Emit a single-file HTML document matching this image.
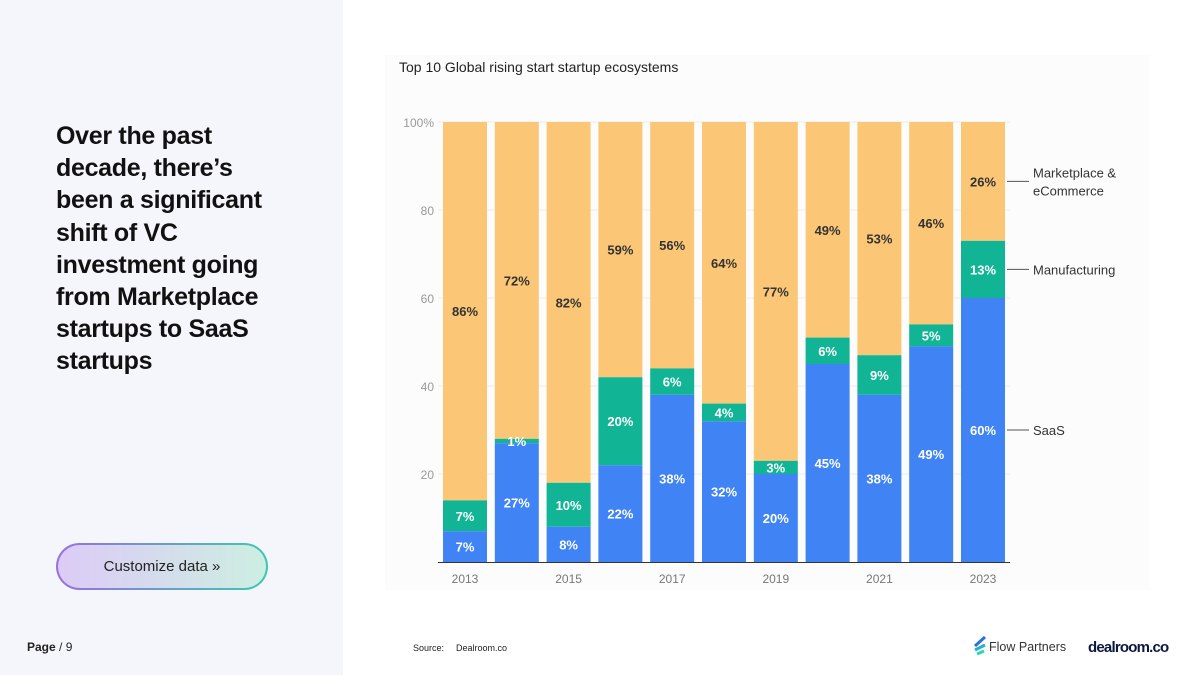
<!DOCTYPE html>
<html><head><meta charset="utf-8"><style>
body{margin:0;width:1200px;height:675px;position:relative;overflow:hidden;background:#fff;font-family:"Liberation Sans",sans-serif}
#left{position:absolute;left:0;top:0;width:343px;height:675px;background:#f5f6fb}
h1{position:absolute;left:56px;top:120px;margin:0;font-size:25px;line-height:32.2px;font-weight:bold;color:#111;white-space:nowrap;letter-spacing:-0.3px}
#btn{position:absolute;left:56px;top:543px;width:212px;height:47px;border-radius:24px;padding:2px;background:linear-gradient(90deg,#9b6fe0,#3cc9b0);box-sizing:border-box}
#btn div{width:100%;height:100%;border-radius:22px;background:linear-gradient(90deg,#dccbf6,#cdeee2);text-align:center;line-height:43px;font-size:15px;color:#222}
#page{position:absolute;left:27px;top:640px;font-size:12px;color:#222}
#chartbg{position:absolute;left:385px;top:55px;width:765px;height:535px;background:#fcfcfc}
</style></head><body>
<div id="left"></div>
<h1>Over the past<br>decade, there’s<br>been a significant<br>shift of VC<br>investment going<br>from Marketplace<br>startups to SaaS<br>startups</h1>
<div id="btn"><div>Customize data »</div></div>
<div id="page"><b>Page</b> / 9</div>
<div id="chartbg"></div>
<svg id="chart" width="1200" height="675" style="position:absolute;left:0;top:0">
<text x="399" y="72" font-size="14" fill="#222" font-family="Liberation Sans">Top 10 Global rising start startup ecosystems</text>
<g id="grid"></g><g id="bars"></g><g id="labels"></g><g id="legend"></g>
<text x="413" y="651" font-size="9" fill="#222">Source:</text>
<text x="456" y="651" font-size="9" fill="#222">Dealroom.co</text>
<g>
<line x1="975" y1="646" x2="985" y2="637" stroke="#2b6fe0" stroke-width="3"/>
<line x1="975" y1="650" x2="985" y2="645" stroke="#24b2c8" stroke-width="3"/>
<line x1="977" y1="654" x2="984" y2="651" stroke="#2cd4b8" stroke-width="3"/>
<text x="989" y="651" font-size="12.5" fill="#333">Flow Partners</text></g>
<text x="1088" y="652" font-size="15" font-weight="bold" fill="#0a1740" letter-spacing="-0.8">dealroom.co</text>
</svg>
<script>
const years=["2013","2014","2015","2016","2017","2018","2019","2020","2021","2022","2023"];
const saas=[7,27,8,22,38,32,20,45,38,49,60];
const manuf=[7,1,10,20,6,4,3,6,9,5,13];
const market=[86,72,82,59,56,64,77,49,53,46,26];
const yTicks=[20,40,60,80,100];
const tickLabels=["20","40","60","80","100%"];
const xLabelYears=["2013","2015","2017","2019","2021","2023"];
const legendNames=["Marketplace &|eCommerce","Manufacturing","SaaS"];
const NS="http://www.w3.org/2000/svg";
const y=v=>562-v*4.4, x=i=>443+i*51.8, bw=44;
function mk(tag,attrs,parent){const e=document.createElementNS(NS,tag);for(const k in attrs)e.setAttribute(k,attrs[k]);document.getElementById(parent).appendChild(e);return e;}
yTicks.forEach((t,i)=>{
 const l=mk('line',{x1:438,x2:1010,y1:y(t),y2:y(t),stroke:'#ececec'},'grid');
 
 
 const tx=mk('text',{x:434,y:y(t)+5,'text-anchor':'end','font-size':12,fill:'#999'},'grid');tx.textContent=tickLabels[i];
 
 
});
const ax=mk('line',{x1:438,x2:1010,y1:562.5,y2:562.5,stroke:'#333'},'grid');


years.forEach((yr,i)=>{
 const top1=saas[i],top2=saas[i]+manuf[i];
 const segs=[[top2,100,'#fbc776',market[i],'#333','marketplace'],[top1,top2,'#11b596',manuf[i],'#fff','manufacturing'],[0,top1,'#3f83f4',saas[i],'#fff','saas']];
 segs.forEach(s=>{
  const r=mk('rect',{x:x(i),y:y(s[1]),width:bw,height:y(s[0])-y(s[1]),fill:s[2]},'bars');
  
  
  const t=mk('text',{x:x(i)+bw/2,y:(y(s[0])+y(s[1]))/2+5,'text-anchor':'middle','font-size':13,'font-weight':'bold',fill:s[4]},'labels');t.textContent=s[3]+'%';
  
  
 });
 if(xLabelYears.includes(yr)){const t=mk('text',{x:x(i)+bw/2,y:583,'text-anchor':'middle','font-size':12,fill:'#777'},'labels');t.textContent=yr;
 
 }
});
const L=years.length-1;
const legY=[(y(saas[L]+manuf[L])+y(100))/2,(y(saas[L])+y(saas[L]+manuf[L]))/2,(y(0)+y(saas[L]))/2];
legendNames.forEach((n,i)=>{
 const ln=mk('line',{x1:1007,x2:1029,y1:legY[i],y2:legY[i],stroke:'#555'},'legend');
 
 
 const parts=n.split('|');
 parts.forEach((p,j)=>{const t=mk('text',{x:1033,y:legY[i]+5+(j-(parts.length-1)/2)*18,'font-size':13,fill:'#333'},'legend');t.textContent=p;
 
 });
});
</script>
</body></html>
